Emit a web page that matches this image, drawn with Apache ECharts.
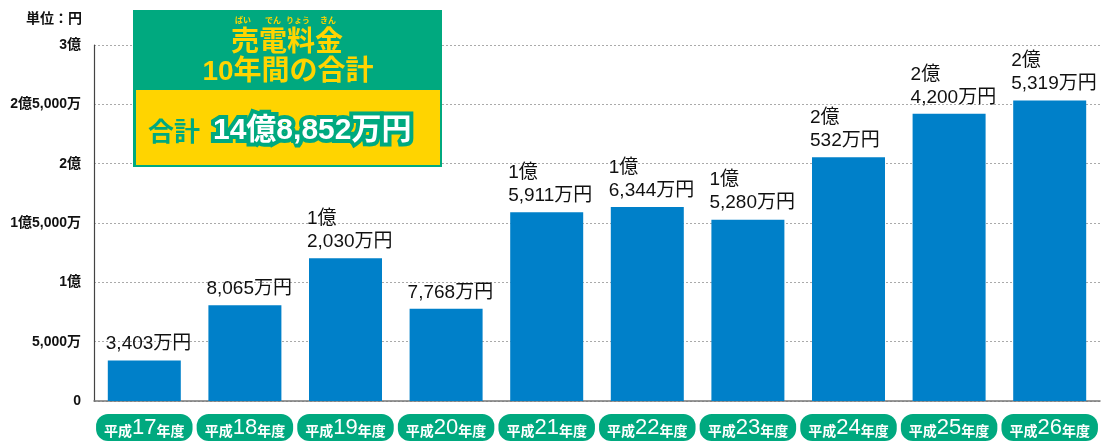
<!DOCTYPE html>
<html><head><meta charset="utf-8">
<script src="https://cdn.jsdelivr.net/npm/echarts@6/dist/echarts.min.js"></script>
<style>html,body{margin:0;padding:0;background:#fff}#c{width:1102px;height:441px}</style>
</head><body><div id="c"></div>
<script>
const categories = ['17','18','19','20','21','22','23','24','25','26'];
const values = [3403, 8065, 12030, 7768, 15911, 16344, 15280, 20532, 24200, 25319]; // 万円
const tickLabels = ['0','5,000万','1億','1億5,000万','2億','2億5,000万','3億'];
const totalText = '14億8,852万円';

const GREEN = '#00a97f', YELLOW = '#ffd400', BLUE = '#0080c9';
const JP = '"Noto Sans CJK JP", sans-serif';
const LAT = '"Liberation Sans", "Noto Sans CJK JP", sans-serif';

function fmt(n){ return n.toString().replace(/\B(?=(\d{3})+(?!\d))/g, ','); }
function barLabel(v){
  if (v >= 10000) return Math.floor(v/10000) + '億\n' + fmt(v % 10000) + '万円';
  return fmt(v) + '万円';
}

const chart = echarts.init(document.getElementById('c'), null, {renderer:'canvas'});
chart.setOption({
  animation:false,
  grid:{left:94, right:2, top:45, bottom:35, containLabel:false},
  xAxis:{
    type:'category', data:categories,
    axisLine:{lineStyle:{color:'#777', width:1.5}},
    axisTick:{show:false},
    axisLabel:{
      interval:0, margin:13,
      formatter: c => '{a|平成}{b|' + c + '}{a|年度}',
      backgroundColor:GREEN, borderRadius:12, padding:[2,8,2,8],
      rich:{
        a:{color:'#fff', fontSize:14, fontWeight:'bold', fontFamily:JP, verticalAlign:'bottom', lineHeight:23, padding:[0,0,1,0]},
        b:{color:'#fff', fontSize:22, fontFamily:LAT, verticalAlign:'bottom', lineHeight:23}
      }
    }
  },
  yAxis:{
    type:'value', min:0, max:30000, interval:5000,
    name:'単位：円', nameLocation:'end', nameGap:20,
    nameTextStyle:{align:'right', padding:[0,12,0,0], color:'#111', fontSize:14, fontWeight:'bold', fontFamily:JP},
    axisLine:{show:true, lineStyle:{color:'#444', width:1.2}},
    axisTick:{show:false},
    axisLabel:{margin:13, color:'#111', fontSize:14, fontWeight:'bold', fontFamily:LAT,
      formatter:(v)=> tickLabels[Math.round(v/5000)]},
    splitLine:{show:true, lineStyle:{color:'#aaa', type:[2,2], width:1}}
  },
  series:[{
    type:'bar', data:values, barWidth:73,
    itemStyle:{color:BLUE},
    label:{show:true, position:[-2,-5], align:'left', verticalAlign:'bottom',
      formatter:p=>barLabel(p.value), color:'#111', fontSize:19, lineHeight:23, fontFamily:LAT}
  }],
  graphic:[
    {type:'rect', shape:{x:133, y:10, width:309, height:157}, style:{fill:GREEN}, z:100},
    {type:'rect', shape:{x:136, y:90, width:304, height:75}, style:{fill:YELLOW}, z:101},
    {type:'text', x:243, y:20, style:{text:'ばい', fill:YELLOW, font:'bold 8px '+JP, align:'center', verticalAlign:'middle'}, z:102},
    {type:'text', x:273, y:20, style:{text:'でん', fill:YELLOW, font:'bold 8px '+JP, align:'center', verticalAlign:'middle'}, z:102},
    {type:'text', x:298, y:20, style:{text:'りょう', fill:YELLOW, font:'bold 8px '+JP, align:'center', verticalAlign:'middle'}, z:102},
    {type:'text', x:328, y:20, style:{text:'きん', fill:YELLOW, font:'bold 8px '+JP, align:'center', verticalAlign:'middle'}, z:102},
    {type:'text', x:287, y:40, style:{text:'売電料金', fill:YELLOW, font:'bold 28px '+JP, align:'center', verticalAlign:'middle'}, z:102},
    {type:'text', x:288, y:72, style:{text:'10年間の合計', fill:YELLOW, font:'bold 28px '+LAT, align:'center', verticalAlign:'middle'}, z:102},
    {type:'text', x:148, y:131, style:{text:'合計', fill:GREEN, font:'bold 26px '+JP, align:'left', verticalAlign:'middle'}, z:102},
    {type:'text', x:213, y:131, style:{text:totalText, fill:'#fff', stroke:GREEN, lineWidth:8, font:'bold 30px '+LAT, align:'left', verticalAlign:'middle'}, z:102}
  ]
});
</script></body></html>
